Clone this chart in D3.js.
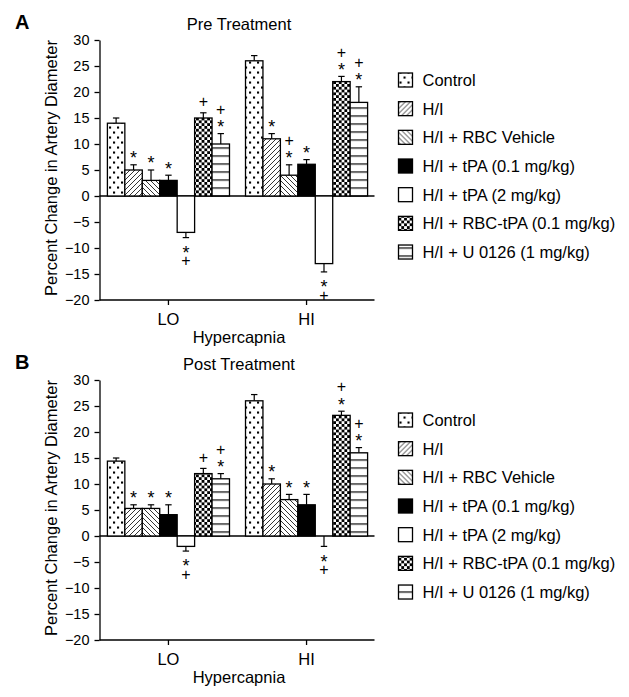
<!DOCTYPE html>
<html>
<head>
<meta charset="utf-8">
<script src="https://cdn.jsdelivr.net/npm/d3@7"></script>
<style>
  body { margin: 0; background: #fff; }
  svg { display: block; font-family: "Liberation Sans", Arial, sans-serif; }
</style>
</head>
<body>
<div id="chart"></div>
<script>
const groups = ["LO", "HI"];
const series = ["Control", "H/I", "H/I + RBC Vehicle", "H/I + tPA (0.1 mg/kg)",
    "H/I + tPA (2 mg/kg)", "H/I + RBC-tPA (0.1 mg/kg)", "H/I + U 0126 (1 mg/kg)"];
const yTicks = [-20, -15, -10, -5, 0, 5, 10, 15, 20, 25, 30];

// pre treatment: mean and end of the error bar
const preLO = [14, 5, 3, 3, -7, 15, 10];
const preLOErr = [15, 6, 5, 4, -8, 16, 12];
const preHI = [26, 11, 4, 6.1, -13, 22, 18];
const preHIErr = [27, 12, 6, 7, -14.6, 23, 21];
const preLOMarks = ["", "*", "*", "*", "*+", "+", "+*"];
const preHIMarks = ["", "*", "+*", "*", "*+", "+*", "+*"];

// post treatment
const postLO = [14.4, 5.3, 5.3, 4.1, -2, 12, 11];
const postLOErr = [15, 6, 6, 6, -2.9, 13, 12];
const postHI = [26, 10, 7, 6, 0, 23.2, 16];
const postHIErr = [27.2, 11, 8, 8, -2, 24, 17];
const postLOMarks = ["", "*", "*", "*", "*+", "+", "+*"];
const postHIMarks = ["", "*", "*", "*", "*+", "+*", "+*"];

const W = 629, H = 697;
const svg = d3.select("#chart").append("svg")
    .attr("width", W)
    .attr("height", H);
const defs = svg.append("defs");

function makePatterns(prefix, y0) {
    let dots = defs.append("pattern").attr("id", prefix + "dots")
        .attr("patternUnits", "userSpaceOnUse").attr("width", 8).attr("height", 10);
    dots.append("rect").attr("width", 8).attr("height", 10).attr("fill", "#fff");
    dots.append("rect").attr("x", 1).attr("y", 1.5).attr("width", 2.1).attr("height", 2.1).attr("fill", "#000");
    dots.append("rect").attr("x", 5).attr("y", 6.5).attr("width", 2.1).attr("height", 2.1).attr("fill", "#000");

    let fwd = defs.append("pattern").attr("id", prefix + "fwd")
        .attr("patternUnits", "userSpaceOnUse").attr("width", 5).attr("height", 5);
    fwd.append("rect").attr("width", 5).attr("height", 5).attr("fill", "#fff");
    fwd.append("path").attr("d", "M-1,1 L1,-1 M0,5 L5,0 M4,6 L6,4")
        .attr("stroke", "#000").attr("stroke-width", 0.8);

    let back = defs.append("pattern").attr("id", prefix + "back")
        .attr("patternUnits", "userSpaceOnUse").attr("width", 5).attr("height", 5);
    back.append("rect").attr("width", 5).attr("height", 5).attr("fill", "#fff");
    back.append("path").attr("d", "M-1,4 L1,6 M0,0 L5,5 M4,-1 L6,1")
        .attr("stroke", "#000").attr("stroke-width", 0.8);

    let checker = defs.append("pattern").attr("id", prefix + "checker")
        .attr("patternUnits", "userSpaceOnUse").attr("width", 5.6).attr("height", 5.6);
    checker.append("rect").attr("width", 5.6).attr("height", 5.6).attr("fill", "#fff");
    checker.append("rect").attr("width", 2.8).attr("height", 2.8).attr("fill", "#000");
    checker.append("rect").attr("x", 2.8).attr("y", 2.8).attr("width", 2.8).attr("height", 2.8).attr("fill", "#000");

    let hlines = defs.append("pattern").attr("id", prefix + "hlines")
        .attr("patternUnits", "userSpaceOnUse").attr("y", y0 - 0.6)
        .attr("width", 8).attr("height", 8);
    hlines.append("rect").attr("width", 8).attr("height", 8).attr("fill", "#fff");
    hlines.append("rect").attr("width", 8).attr("height", 1.2).attr("fill", "#000");

    return ["url(#" + prefix + "dots)", "url(#" + prefix + "fwd)", "url(#" + prefix + "back)", "#000", "#fff",
        "url(#" + prefix + "checker)", "url(#" + prefix + "hlines)"];
}

drawPanel(0, "A", "Pre Treatment", [preLO, preHI], [preLOErr, preHIErr], [preLOMarks, preHIMarks]);
drawPanel(340, "B", "Post Treatment", [postLO, postHI], [postLOErr, postHIErr], [postLOMarks, postHIMarks]);

function drawPanel(top, letter, title, values, errs, marks) {
    const g = svg.append("g").attr("transform", "translate(0," + top + ")");

    const y = d3.scaleLinear().domain([-20, 30]).range([300, 40]);
    const x0 = d3.scaleBand().domain(groups).range([100.5, 374.5])
        .paddingInner(0.116).paddingOuter(0.05);
    const x1 = d3.scaleBand().domain(d3.range(series.length)).range([0, x0.bandwidth()]);

    const fills = makePatterns("p" + letter, top + y(0));

    let bars = [];
    groups.forEach(function (grp, gi) {
        series.forEach(function (s, si) {
            bars.push({group: grp, index: si, value: values[gi][si], err: errs[gi][si], mark: marks[gi][si]});
        });
    });

    // zero line
    g.append("line")
        .attr("x1", x0.range()[0] - 1).attr("x2", x0.range()[1])
        .attr("y1", y(0)).attr("y2", y(0))
        .attr("stroke", "#000").attr("stroke-width", 1.3);

    // error bars
    const eb = g.append("g").attr("stroke", "#000").attr("stroke-width", 1.2);
    bars.forEach(function (d) {
        let cx = x0(d.group) + x1(d.index) + x1.bandwidth() / 2;
        eb.append("line").attr("x1", cx).attr("x2", cx).attr("y1", y(d.value)).attr("y2", y(d.err));
        eb.append("line").attr("x1", cx - 3.2).attr("x2", cx + 3.2).attr("y1", y(d.err)).attr("y2", y(d.err));
    });

    // bars
    g.append("g").selectAll("rect")
        .data(bars.filter(d => d.value !== 0))
        .join("rect")
        .attr("x", d => x0(d.group) + x1(d.index))
        .attr("y", d => y(Math.max(0, d.value)))
        .attr("width", x1.bandwidth())
        .attr("height", d => Math.abs(y(d.value) - y(0)))
        .attr("fill", d => fills[d.index])
        .attr("stroke", "#000")
        .attr("stroke-width", 1.3);

    // significance marks, one text per bar with a tspan per symbol
    const mk = g.append("g").attr("text-anchor", "middle");
    bars.forEach(function (d) {
        if (!d.mark) return;
        let cx = x0(d.group) + x1(d.index) + x1.bandwidth() / 2;
        let ey = y(d.err);
        let chars = d.mark.split("");
        let t = mk.append("text");
        chars.forEach(function (c, ci) {
            let cy;
            if (d.err >= d.value) {
                cy = ey - 11.5 - (chars.length - 1 - ci) * 13;
            } else {
                cy = ey + 10.5 + ci * 12.5;
            }
            t.append("tspan")
                .attr("x", cx)
                .attr("y", c === "*" ? cy + 10.8 : cy + 5.7)
                .attr("font-size", c === "*" ? "18px" : "16px")
                .text(c);
        });
    });

    // axes
    const yAxis = g.append("g")
        .attr("transform", "translate(" + (x0.range()[0] - 1) + ",0)")
        .call(d3.axisLeft(y).tickValues(yTicks).tickSize(5).tickPadding(5).tickSizeOuter(0));
    yAxis.selectAll("text").attr("font-size", "14.5px").attr("fill", "#000").style("font-family", "Liberation Sans, Arial, sans-serif");

    const xAxis = g.append("g")
        .attr("transform", "translate(0," + y(-20) + ")")
        .call(d3.axisBottom(x0).tickSize(5).tickPadding(8).tickSizeOuter(0));
    xAxis.selectAll("text").attr("font-size", "16.5px").attr("fill", "#000").style("font-family", "Liberation Sans, Arial, sans-serif");
    xAxis.select(".domain").attr("d", "M" + (x0.range()[0] - 1) + ",0H" + x0.range()[1]);

    g.selectAll(".domain, .tick line").attr("stroke", "#000").attr("stroke-width", 1.3);

    // titles
    g.append("text")
        .attr("x", 15).attr("y", 29)
        .attr("font-size", "20px").attr("font-weight", "bold")
        .text(letter);

    g.append("text")
        .attr("x", 239).attr("y", 30)
        .attr("text-anchor", "middle").attr("font-size", "16.5px")
        .text(title);

    g.append("text")
        .attr("x", 239).attr("y", 343)
        .attr("text-anchor", "middle").attr("font-size", "16.5px")
        .text("Hypercapnia");

    g.append("text")
        .attr("transform", "translate(57,168) rotate(-90)")
        .attr("text-anchor", "middle").attr("font-size", "16.5px")
        .text("Percent Change in Artery Diameter");

    // legend
    const leg = g.append("g").attr("transform", "translate(398.5,80)");
    series.forEach(function (s, i) {
        let row = leg.append("g").attr("transform", "translate(0," + (i * 28.67) + ")");
        row.append("rect")
            .attr("x", 0).attr("y", -7)
            .attr("width", 14).attr("height", 14)
            .attr("fill", fills[i])
            .attr("stroke", "#000").attr("stroke-width", 1.3);
        row.append("text")
            .attr("x", 24).attr("y", 6)
            .attr("font-size", "16.5px")
            .text(s);
    });
}
</script>
</body>
</html>
